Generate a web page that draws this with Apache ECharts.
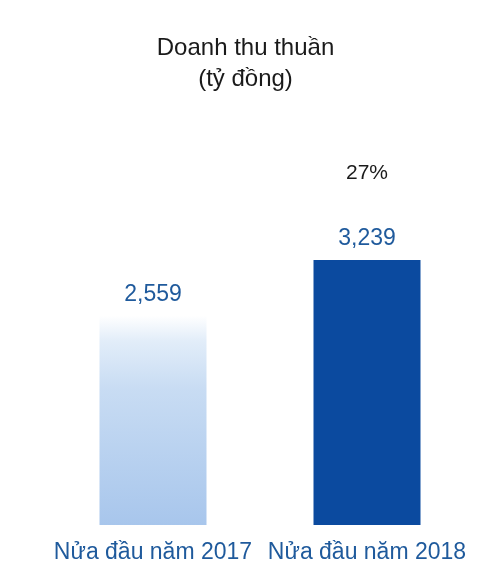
<!DOCTYPE html>
<html>
<head>
<meta charset="utf-8">
<script src="https://cdn.jsdelivr.net/npm/echarts@6/dist/echarts.min.js"></script>
<style>
  html, body { margin: 0; padding: 0; background: #fff; }
  #main { width: 491px; height: 575px; }
</style>
</head>
<body>
<div id="main"></div>
<script>
var categories = ['Nửa đầu năm 2017', 'Nửa đầu năm 2018'];
var revenue = [2559, 3239];
var growth = ['', '27%'];

var myChart = echarts.init(document.getElementById('main'));

var barColors = [
  new echarts.graphic.LinearGradient(0, 0, 0, 1, [
    { offset: 0, color: '#ffffff' },
    { offset: 0.12, color: '#e2edf9' },
    { offset: 0.35, color: '#c8dcf3' },
    { offset: 1, color: '#a8c6ec' }
  ]),
  '#0b4a9f'
];

var option = {
  title: {
    text: 'Doanh thu thuần\n(tỷ đồng)',
    left: 'center',
    top: 28,
    textStyle: {
      fontFamily: 'Liberation Sans',
      fontSize: 24,
      fontWeight: 'normal',
      color: '#1a1a1a',
      lineHeight: 31
    }
  },
  grid: { left: 46, right: 17, top: 116, bottom: 50 },
  xAxis: {
    type: 'category',
    data: categories,
    axisLine: { show: false },
    axisTick: { show: false },
    axisLabel: {
      interval: 0,
      hideOverlap: false,
      fontFamily: 'Liberation Sans',
      fontSize: 23,
      color: '#1f5a9c',
      margin: 16
    }
  },
  yAxis: {
    type: 'value',
    min: 0,
    max: 5000,
    show: false
  },
  series: [{
    type: 'bar',
    barWidth: '50%',
    data: revenue.map(function (v, i) {
      return { value: v, itemStyle: { color: barColors[i] } };
    }),
    label: {
      show: true,
      position: 'top',
      distance: 8,
      fontFamily: 'Liberation Sans',
      formatter: function (p) {
        var s = p.value.toLocaleString('en-US');
        var g = growth[p.dataIndex];
        return g ? '{g|' + g + '}\n{v|' + s + '}' : '{v|' + s + '}';
      },
      rich: {
        v: { fontSize: 23, color: '#1f5a9c', lineHeight: 26, fontFamily: 'Liberation Sans' },
        g: { fontSize: 21, color: '#1a1a1a', lineHeight: 106, fontFamily: 'Liberation Sans' }
      }
    }
  }],
  animation: false
};

myChart.setOption(option);
</script>
</body>
</html>
